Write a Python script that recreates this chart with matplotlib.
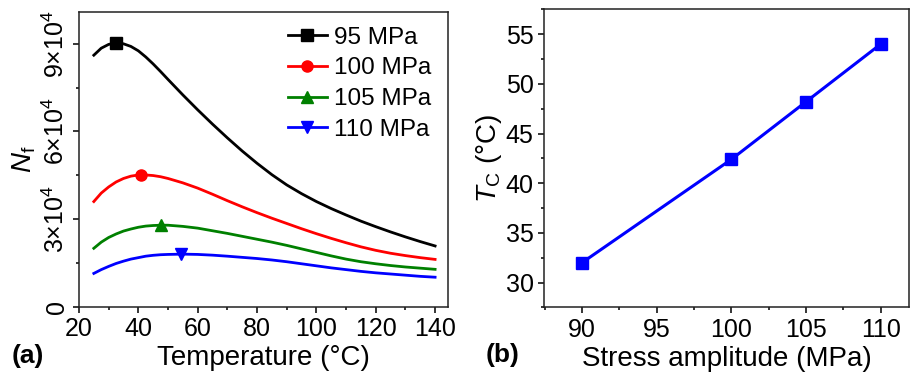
import numpy as np
import matplotlib.pyplot as plt
from matplotlib.lines import Line2D
from matplotlib.ticker import MultipleLocator, FixedLocator, FixedFormatter

plt.rcParams['font.family'] = ['Liberation Sans', 'DejaVu Sans']
plt.rcParams['mathtext.fontset'] = 'custom'
plt.rcParams['mathtext.rm'] = 'Liberation Sans'
plt.rcParams['mathtext.it'] = 'Liberation Sans:italic'
plt.rcParams['mathtext.bf'] = 'Liberation Sans:bold'

# fatigue life vs temperature at each stress amplitude
temp = [25, 27.5, 30, 32.5, 35, 37.5, 40, 42.5, 45, 47.5, 50, 55, 60, 65, 70,
        75, 80, 85, 90, 95, 100, 105, 110, 115, 120, 125, 130, 135, 140]
nf_95 = [86100, 88500, 89800, 90300, 90000, 89100, 87600, 85500, 83100, 80500,
         77800, 72500, 67400, 62500, 57800, 53300, 49100, 45200, 41700, 38700,
         36000, 33600, 31400, 29300, 27400, 25600, 23900, 22300, 20800]
nf_100 = [36000, 38900, 41000, 42700, 43900, 44700, 45100, 45100, 44900, 44500,
          43900, 42400, 40600, 38500, 36300, 34200, 32200, 30300, 28500, 26700,
          25000, 23400, 21900, 20500, 19300, 18300, 17500, 16800, 16200]
nf_105 = [20000, 22100, 23700, 24900, 25900, 26600, 27200, 27600, 27800, 27900,
          27900, 27500, 26900, 26000, 25100, 24100, 23100, 22100, 21000, 19800,
          18600, 17400, 16300, 15400, 14700, 14100, 13600, 13200, 12800]
nf_110 = [11400, 12700, 13800, 14800, 15600, 16300, 16800, 17300, 17600, 17800,
          17900, 18000, 17900, 17650, 17300, 16900, 16500, 16000, 15400, 14700,
          14000, 13300, 12700, 12100, 11600, 11200, 10800, 10400, 10100]
labels = ['95 MPa', '100 MPa', '105 MPa', '110 MPa']
peak_T = [32.4, 40.8, 47.6, 54.5]
peak_N = [90300, 45100, 27900, 18000]

# critical temperature vs stress amplitude
stress = [90, 100, 105, 110]
tc = [32.0, 42.4, 48.2, 54.0]

colors = ['black', '#ff0000', '#008000', '#0000ff']
markers = ['s', 'o', '^', 'v']

fig = plt.figure(figsize=(9.1, 3.73), dpi=100)
ax1 = fig.add_axes([0.0868, 0.1777, 0.406, 0.791])
ax2 = fig.add_axes([0.5978, 0.176, 0.4012, 0.799])

curves = [nf_95, nf_100, nf_105, nf_110]
handles = []
for i in range(4):
    ax1.plot(temp, curves[i], color=colors[i], lw=2.0)
    ax1.plot(peak_T[i], peak_N[i], marker=markers[i], color=colors[i],
             ms=8, ls='none')
    handles.append(Line2D([], [], color=colors[i], lw=2.0, marker=markers[i], ms=8))

ax1.set_xlim(20, 144.5)
ax1.set_ylim(0, 101000)
ax1.xaxis.set_major_locator(MultipleLocator(20))
ax1.xaxis.set_minor_locator(MultipleLocator(10))
ax1.yaxis.set_major_locator(FixedLocator([0, 30000, 60000, 90000]))
ax1.yaxis.set_major_formatter(FixedFormatter(['0', r'3$\times$10$^4$',
                                              r'6$\times$10$^4$', r'9$\times$10$^4$']))
ax1.yaxis.set_minor_locator(MultipleLocator(15000))
for lab in ax1.get_yticklabels():
    lab.set_rotation(90)
    lab.set_va('center')
ax1.set_xlabel('Temperature (°C)', fontsize=20, labelpad=3)
ax1.set_ylabel(r'$N_\mathrm{f}$', fontsize=20, labelpad=3)
ax1.legend(handles, labels, loc='upper right', frameon=False, fontsize=17.5,
           handlelength=1.6, handletextpad=0.3, labelspacing=0.36,
           borderaxespad=0.15, bbox_to_anchor=(0.99, 0.995))

ax2.plot(stress, tc, color='#0000ff', lw=2.2, marker='s', ms=8)
ax2.set_xlim(87.45, 111.9)
ax2.set_ylim(27.5, 57.5)
ax2.xaxis.set_major_locator(MultipleLocator(5))
ax2.xaxis.set_minor_locator(MultipleLocator(2.5))
ax2.yaxis.set_major_locator(MultipleLocator(5))
ax2.yaxis.set_minor_locator(MultipleLocator(2.5))
ax2.set_xlabel('Stress amplitude (MPa)', fontsize=20, labelpad=3)
ax2.set_ylabel(r'$T_\mathrm{C}$ (°C)', fontsize=20, labelpad=1)

for ax in (ax1, ax2):
    ax.tick_params(which='both', direction='out', labelsize=18, width=1.1,
                   top=False, right=False)
    ax.tick_params(which='major', length=4.5, pad=3)
    ax.tick_params(which='minor', length=2.5)
    for sp in ax.spines.values():
        sp.set_linewidth(1.1)
        sp.set_color('#222222')

fig.text(12 / 910, 1 - 356 / 373, '(a)', fontsize=19, fontweight='bold', va='center')
fig.text(486 / 910, 1 - 355 / 373, '(b)', fontsize=19, fontweight='bold', va='center')

fig.savefig('out.png', dpi=100)
